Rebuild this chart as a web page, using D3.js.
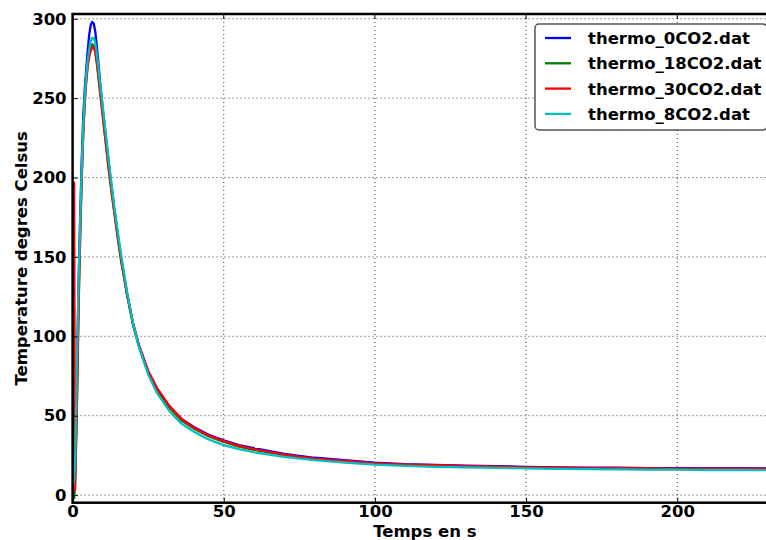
<!DOCTYPE html>
<html>
<head>
<meta charset="utf-8">
<script src="https://cdn.jsdelivr.net/npm/d3@7"></script>
<style>
  body { margin: 0; background: #fff; }
  text { font-family: "DejaVu Sans", sans-serif; font-weight: bold; }
</style>
</head>
<body>
<div id="chart"></div>
<script>
// Sample times (s)
const TIMES = [0, 0.5, 0.8, 1.2, 1.5, 2, 2.5, 3, 3.5, 4, 4.5, 5, 5.5, 6, 6.5, 7, 7.5, 8, 8.5, 9,
	10, 11, 12, 13, 14, 15, 16, 18, 20, 22, 25, 28, 32, 36, 40, 45, 50, 55, 60, 70,
	80, 90, 100, 110, 120, 130, 140, 150, 160, 170, 180, 190, 200, 210, 220, 233];

const SERIES_NAMES = ["thermo_0CO2.dat", "thermo_18CO2.dat", "thermo_30CO2.dat", "thermo_8CO2.dat"];
const SERIES_COLORS = ["#0000ff", "#008000", "#ff0000", "#00bfbf"];

const temp0 = [1, 5, 12, 45, 85, 135, 175, 210, 238, 255, 268, 280, 290, 296, 298, 297, 292, 283, 273, 262,
	243, 226, 208, 192, 177, 163, 150, 127, 108, 94, 78, 67, 56, 48, 43, 38, 34.5, 31.5, 29.5, 26,
	23.5, 22, 20.5, 19.5, 19, 18.5, 18.2, 17.8, 17.5, 17.3, 17.2, 17, 17, 16.9, 17, 16.8];
const temp18 = [-3, -2, 5, 35, 70, 125, 165, 200, 228, 248, 262, 272, 278, 282, 284, 283, 279, 272, 264, 255,
	238, 221, 204, 189, 175, 161, 148, 126, 107, 93, 77, 66, 55, 47, 42, 37, 33.5, 30.5, 28.5, 25,
	22.5, 21, 19.8, 19, 18.5, 18, 17.7, 17.3, 17, 16.8, 16.6, 16.5, 16.4, 16.3, 16.3, 16.2];
const temp30 = [5, 197, 3, 42, 62, 118, 162, 198, 226, 246, 260, 270, 276, 280, 282, 282, 279, 273, 265, 256,
	239, 222, 205, 190, 176, 162, 149, 127, 108, 94, 78, 67, 56, 48, 42.5, 37.5, 34, 31, 29, 25.5,
	23, 21.5, 20, 19.2, 18.8, 18.2, 17.9, 17.5, 17.2, 17, 17, 16.8, 16.7, 16.6, 16.7, 16.5];
const temp8 = [3, 10, 20, 55, 90, 135, 172, 205, 232, 250, 264, 274, 281, 286, 288, 288, 285, 278, 270, 261,
	244, 227, 210, 194, 179, 165, 152, 128, 108, 93, 76, 64, 53, 45, 40, 35, 31.5, 29, 27, 24,
	22, 20.5, 19.2, 18.4, 17.8, 17.4, 17.1, 16.8, 16.5, 16.3, 16.2, 16, 16, 15.8, 15.8, 15.7];

const X_TICKS = [0, 50, 100, 150, 200];
const Y_TICKS = [0, 50, 100, 150, 200, 250, 300];

const width = 766;
const height = 540;
const margin = { top: 14, left: 72.6, right: 777, bottom: 502.7 };

const svg = d3.select("#chart").append("svg")
	.attr("width", width)
	.attr("height", height);

const scaleX = d3.scaleLinear().domain([0, 233]).range([margin.left, margin.right]);
const scaleY = d3.scaleLinear().domain([-4.8, 303]).range([margin.bottom, margin.top]);

// Grid (dotted)
const grid = svg.append("g").attr("class", "grid");
grid.selectAll(".gx").data(X_TICKS).enter().append("line")
	.attr("x1", d => scaleX(d)).attr("x2", d => scaleX(d))
	.attr("y1", margin.top).attr("y2", margin.bottom)
	.attr("stroke", "#000").attr("stroke-width", 1).attr("stroke-dasharray", "1,3").attr("opacity", 0.8);
grid.selectAll(".gy").data(Y_TICKS).enter().append("line")
	.attr("y1", d => scaleY(d)).attr("y2", d => scaleY(d))
	.attr("x1", margin.left).attr("x2", margin.right)
	.attr("stroke", "#000").attr("stroke-width", 1).attr("stroke-dasharray", "1,3").attr("opacity", 0.8);

// Lines
const line = d3.line()
	.x((d, i) => scaleX(TIMES[i]))
	.y(d => scaleY(d));

const allSeries = [temp0, temp18, temp30, temp8];
const plot = svg.append("g");
plot.append("clipPath").attr("id", "clip").append("rect")
	.attr("x", margin.left).attr("y", margin.top)
	.attr("width", margin.right - margin.left).attr("height", margin.bottom - margin.top);
allSeries.forEach(function(s, i) {
	plot.append("path")
		.datum(s)
		.attr("d", line)
		.attr("fill", "none")
		.attr("stroke", SERIES_COLORS[i])
		.attr("stroke-width", 2.3)
		.attr("stroke-linejoin", "round")
		.attr("clip-path", "url(#clip)");
});

// Axes (ticks inside)
const xAxis = d3.axisBottom(scaleX).tickValues(X_TICKS).tickSizeInner(-5).tickSizeOuter(0).tickPadding(10);
const yAxis = d3.axisLeft(scaleY).tickValues(Y_TICKS).tickSizeInner(-5).tickSizeOuter(0).tickPadding(10);

const gx = svg.append("g").attr("transform", "translate(0," + margin.bottom + ")").call(xAxis);
const gy = svg.append("g").attr("transform", "translate(" + margin.left + ",0)").call(yAxis);
[gx, gy].forEach(function(g) {
	g.select(".domain").remove();
	g.selectAll(".tick line").attr("stroke", "#000").attr("stroke-width", 1);
	g.selectAll(".tick text").attr("font-size", "16.5px").attr("fill", "#000");
});
gx.selectAll(".tick text").attr("dy", "0.71em").attr("y", 3);
gy.selectAll(".tick text").attr("x", -6);

// Top ticks
svg.append("g").selectAll("line").data(X_TICKS).enter().append("line")
	.attr("x1", d => scaleX(d)).attr("x2", d => scaleX(d))
	.attr("y1", margin.top).attr("y2", margin.top + 5)
	.attr("stroke", "#000");

// Spines
svg.append("rect")
	.attr("x", margin.left).attr("y", margin.top)
	.attr("width", margin.right - margin.left).attr("height", margin.bottom - margin.top)
	.attr("fill", "none").attr("stroke", "#000").attr("stroke-width", 2.5);

// Axis labels
svg.append("text")
	.attr("x", (margin.left + margin.right) / 2).attr("y", 537)
	.attr("text-anchor", "middle").attr("font-size", "16.5px")
	.text("Temps en s");
svg.append("text")
	.attr("transform", "translate(27," + ((margin.top + margin.bottom) / 2) + ") rotate(-90)")
	.attr("text-anchor", "middle").attr("font-size", "16.5px")
	.text("Temperature degres Celsus");

// Legend
const legend = svg.append("g").attr("transform", "translate(535,24)");
legend.append("rect")
	.attr("width", 232).attr("height", 106).attr("rx", 4)
	.attr("fill", "#fff").attr("stroke", "#555").attr("stroke-width", 1.5);
SERIES_NAMES.forEach(function(name, i) {
	const y = 14 + i * 25.3;
	legend.append("line")
		.attr("x1", 10).attr("x2", 36).attr("y1", y).attr("y2", y)
		.attr("stroke", SERIES_COLORS[i]).attr("stroke-width", 2.3);
	legend.append("text")
		.attr("x", 53).attr("y", y).attr("dy", "0.36em")
		.attr("font-size", "16.5px")
		.text(name);
});
</script>
</body>
</html>
